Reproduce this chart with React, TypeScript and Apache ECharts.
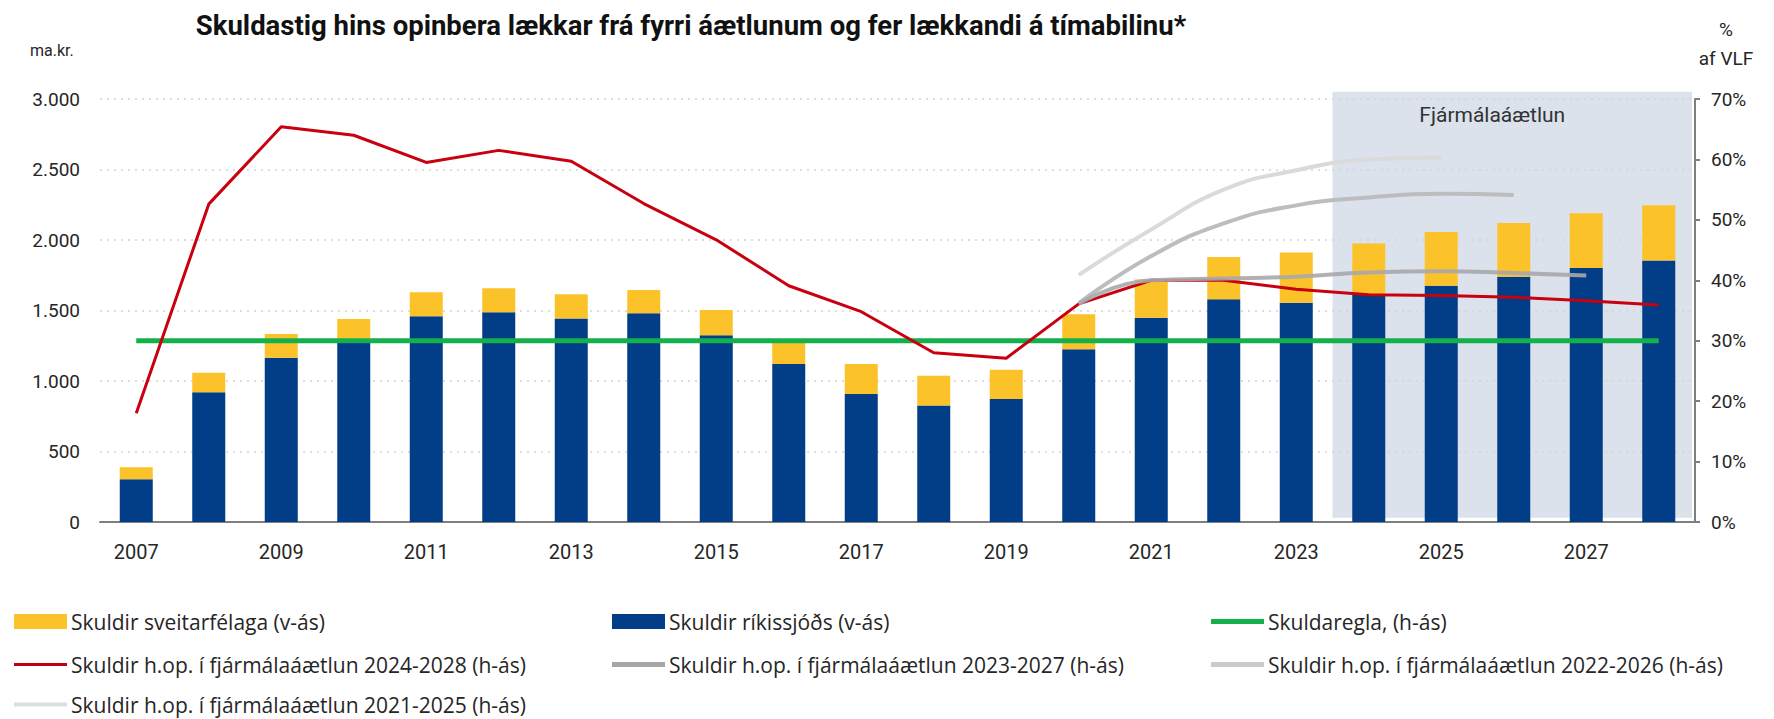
import React, { useEffect, useRef } from "react";
import * as echarts from "echarts";

const years = ["2007","2008","2009","2010","2011","2012","2013","2014","2015","2016","2017","2018","2019","2020","2021","2022","2023","2024","2025","2026","2027","2028"];
const stateDebt = [303, 920, 1165, 1285, 1459, 1488, 1443, 1481, 1325, 1120, 907, 827, 872, 1226, 1448, 1580, 1555, 1610, 1676, 1739, 1801, 1854];
const municipalDebt = [85, 139, 168, 155, 170, 170, 172, 165, 179, 160, 213, 210, 207, 247, 271, 300, 356, 365, 381, 382, 389, 393];
const plan2024 = [18.0, 52.6, 65.4, 64.0, 59.5, 61.5, 59.7, 52.7, 46.7, 39.1, 34.8, 28.0, 27.1, 36.1, 40.0, 40.0, 38.5, 37.6, 37.5, 37.2, 36.6, 35.9];
const plan2023 = [null, null, null, null, null, null, null, null, null, null, null, null, null, 36.1, 40.0, 40.3, 40.6, 41.3, 41.5, 41.2, 40.8, null];
const plan2022 = [null, null, null, null, null, null, null, null, null, null, null, null, null, 36.2, 44.0, 49.4, 52.4, 53.7, 54.3, 54.1, null, null];
const plan2021 = [null, null, null, null, null, null, null, null, null, null, null, null, null, 40.9, 48.4, 55.0, 58.2, 60.0, 60.3, null, null, null];
const debtRule = [30, 30, 30, 30, 30, 30, 30, 30, 30, 30, 30, 30, 30, 30, 30, 30, 30, 30, 30, 30, 30, 30];

const N_MUNI = "Skuldir sveitarfélaga (v-ás)";
const N_STATE = "Skuldir ríkissjóðs (v-ás)";
const N_RULE = "Skuldaregla, (h-ás)";
const N_P24 = "Skuldir h.op. í fjármálaáætlun 2024-2028 (h-ás)";
const N_P23 = "Skuldir h.op. í fjármálaáætlun 2023-2027 (h-ás)";
const N_P22 = "Skuldir h.op. í fjármálaáætlun 2022-2026 (h-ás)";
const N_P21 = "Skuldir h.op. í fjármálaáætlun 2021-2025 (h-ás)";

const FONT = "Roboto";
const LEGEND_FONT = "Open Sans";
const TXT = "#262626";

function fmtThousands(v: number): string {
  if (v >= 1000) {
    const th = Math.floor(v / 1000);
    const rest = String(v % 1000).padStart(3, "0");
    return th + "." + rest;
  }
  return String(v);
}

function legendItem(name: string, left: number, top: number, h: number) {
  return {
    left,
    top,
    padding: 0,
    orient: "horizontal",
    itemWidth: 53,
    itemHeight: h,
    selectedMode: false,
    textStyle: { fontFamily: LEGEND_FONT, fontSize: 21, color: TXT, lineHeight: 20, padding: [0, 0, 0, -1] },
    data: [{ name, icon: "rect" }],
  };
}

export default function App() {
  const ref = useRef<HTMLDivElement>(null);
  useEffect(() => {
    if (!ref.current) return;
    const chart = echarts.init(ref.current, null, { renderer: "svg" });
    const r1 = 611, r2 = 654, r3 = 694;
    const c1 = 14, c2 = 612, c3 = 1211;
    const option: any = {
      animation: false,
      backgroundColor: "#ffffff",
      title: {
        text: "Skuldastig hins opinbera lækkar frá fyrri áætlunum og fer lækkandi á tímabilinu*",
        left: 686,
        textAlign: "center",
        top: 6,
        textStyle: { fontFamily: FONT, fontSize: 27.5, fontWeight: "bold", color: "#111111" },
      },
      grid: { left: 100, right: 79, top: 99, bottom: 197, containLabel: false },
      legend: [
        legendItem(N_MUNI, c1, r1, 15),
        legendItem(N_STATE, c2, r1, 15),
        legendItem(N_RULE, c3, r1, 5),
        legendItem(N_P24, c1, r2, 3),
        legendItem(N_P23, c2, r2, 5),
        legendItem(N_P22, c3, r2, 5),
        legendItem(N_P21, c1, r3, 4),
      ],
      xAxis: {
        type: "category",
        data: years,
        boundaryGap: true,
        axisLine: { show: true, lineStyle: { color: "#7f7f7f", width: 2 } },
        axisTick: { show: false },
        axisLabel: { interval: 1, fontFamily: FONT, fontSize: 20, color: TXT, margin: 20 },
      },
      yAxis: [
        {
          type: "value",
          min: 0,
          max: 3000,
          interval: 500,
          axisLine: { show: false },
          axisTick: { show: false },
          axisLabel: {
            fontFamily: FONT,
            fontSize: 19,
            color: TXT,
            margin: 20,
            formatter: (v: number) => fmtThousands(v),
          },
          splitLine: { show: true, lineStyle: { color: "#d3d3d8", width: 1.5, type: [2, 5] } },
        },
        {
          type: "value",
          position: "right",
          min: 0,
          max: 70,
          interval: 10,
          axisLine: { show: true, lineStyle: { color: "#7f7f7f", width: 2 } },
          axisTick: { show: true, inside: false, length: 5, lineStyle: { color: "#7f7f7f", width: 2 } },
          axisLabel: { fontFamily: FONT, fontSize: 19, color: TXT, margin: 16, formatter: "{value}%" },
          splitLine: { show: false },
        },
      ],
      series: [
        {
          name: N_STATE,
          type: "bar",
          stack: "debt",
          barWidth: 33,
          data: stateDebt,
          itemStyle: { color: "#023d87" },
        },
        {
          name: N_MUNI,
          type: "bar",
          stack: "debt",
          barWidth: 33,
          data: municipalDebt,
          itemStyle: { color: "#fcc22a" },
        },
        {
          name: N_RULE,
          type: "line",
          yAxisIndex: 1,
          data: debtRule,
          symbol: "none",
          lineStyle: { color: "#14b04c", width: 5 },
          itemStyle: { color: "#14b04c" },
        },
        {
          name: N_P24,
          type: "line",
          yAxisIndex: 1,
          data: plan2024,
          symbol: "none",
          lineStyle: { color: "#c8000f", width: 3 },
          itemStyle: { color: "#c00010" },
        },
        {
          name: N_P21,
          type: "line",
          yAxisIndex: 1,
          data: plan2021,
          symbol: "none",
          smooth: 0.5,
          lineStyle: { color: "#dadada", width: 4 },
          itemStyle: { color: "#dedede" },
        },
        {
          name: N_P22,
          type: "line",
          yAxisIndex: 1,
          data: plan2022,
          symbol: "none",
          smooth: 0.5,
          lineStyle: { color: "#bdbdc0", width: 4 },
          itemStyle: { color: "#cbcbcb" },
        },
        {
          name: N_P23,
          type: "line",
          yAxisIndex: 1,
          data: plan2023,
          symbol: "none",
          smooth: 0.5,
          lineStyle: { color: "#a8a8ac", width: 4, opacity: 0.9 },
          itemStyle: { color: "#a6a6a6" },
        },
      ],
    };
    chart.setOption(option);

    const x23 = chart.convertToPixel({ xAxisIndex: 0 }, "2023") as number;
    const x24 = chart.convertToPixel({ xAxisIndex: 0 }, "2024") as number;
    const x28 = chart.convertToPixel({ xAxisIndex: 0 }, "2028") as number;
    const band = x24 - x23;
    const shadeLeft = (x23 + x24) / 2;
    const shadeRight = x28 + band / 2 - 3;
    const shadeTop = chart.convertToPixel({ yAxisIndex: 1 }, 71.2) as number;
    const shadeBottom = chart.convertToPixel({ yAxisIndex: 1 }, 0.7) as number;

    chart.setOption({
      graphic: [
        {
          type: "rect",
          z: -1,
          silent: true,
          shape: { x: shadeLeft, y: shadeTop, width: shadeRight - shadeLeft, height: shadeBottom - shadeTop },
          style: { fill: "#dbe2ec" },
        },
        {
          type: "text",
          z: 5,
          x: (shadeLeft + shadeRight) / 2 - 20,
          y: 115,
          style: { text: "Fjármálaáætlun", fontFamily: FONT, fontSize: 21, fill: "#333333", align: "center", verticalAlign: "middle" },
        },
        {
          type: "text",
          x: 30,
          y: 50,
          style: { text: "ma.kr.", fontFamily: FONT, fontSize: 16, fill: TXT, align: "left", verticalAlign: "middle" },
        },
        {
          type: "text",
          x: 1726,
          y: 29,
          style: { text: "%", fontFamily: FONT, fontSize: 19, fill: TXT, align: "center", verticalAlign: "middle" },
        },
        {
          type: "text",
          x: 1726,
          y: 58,
          style: { text: "af VLF", fontFamily: FONT, fontSize: 19, fill: TXT, align: "center", verticalAlign: "middle" },
        },
      ],
    });

    return () => chart.dispose();
  }, []);
  return (
    <div
      ref={ref}
      style={{ position: "fixed", left: 0, top: 0, width: 1774, height: 719, background: "#fff" }}
    />
  );
}
